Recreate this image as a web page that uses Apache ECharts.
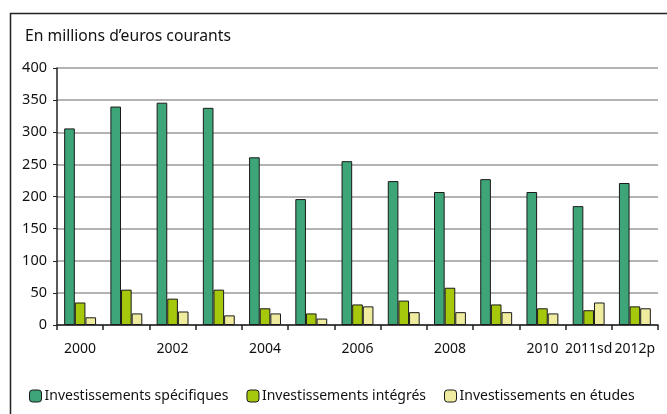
<!DOCTYPE html>
<html>
<head>
<meta charset="utf-8">
<script src="https://cdn.jsdelivr.net/npm/echarts@6/dist/echarts.min.js"></script>
<style>
  html, body { margin: 0; padding: 0; background: #fff; }
  #chart { width: 667px; height: 414px; }
</style>
</head>
<body>
<div id="chart"></div>
<script>
// Années (sd = semi-définitif, p = provisoire)
const years = ['2000', '2001', '2002', '2003', '2004', '2005', '2006', '2007', '2008', '2009', '2010', '2011sd', '2012p'];
const shownLabels = ['2000', '2002', '2004', '2006', '2008', '2010', '2011sd', '2012p'];

// En millions d'euros courants
const specifiques = [306, 340, 346, 338, 261, 196, 255, 224, 207, 227, 207, 185, 221];
const integres    = [35, 55, 41, 55, 26, 18, 32, 38, 58, 32, 26, 23, 29];
const etudes      = [12, 18, 21, 15, 18, 10, 29, 20, 20, 20, 18, 35, 26];

const FONT = 'Noto Sans';
const chart = echarts.init(document.getElementById('chart'), null, { renderer: 'canvas' });

const barStyle = (color) => ({ color, borderColor: '#1a1a1a', borderWidth: 1 });

chart.setOption({
  animation: false,
  textStyle: { fontFamily: FONT },
  graphic: [
    { type: 'rect', shape: { x: 10.5, y: 13.5, width: 700, height: 450 },
      style: { fill: 'none', stroke: '#222', lineWidth: 1.5 } },
    { type: 'text', left: 25, top: 29,
      style: { text: 'En millions d\u2019euros courants', font: '15.7px "' + FONT + '"', fill: '#111' } },
  ],
  legend: {
    bottom: 6, left: 24, itemGap: 18,
    itemWidth: 12, itemHeight: 12, itemStyle: { borderColor: '#1a1a1a', borderWidth: 1 },
    textStyle: { fontSize: 14, color: '#111', padding: [0, 0, 0, -2] },
    data: ['Investissements spécifiques', 'Investissements intégrés', 'Investissements en études'],
  },
  grid: { left: 57, right: 9, top: 68, bottom: 89 },
  xAxis: {
    type: 'category', data: years,
    axisLine: { lineStyle: { color: '#222', width: 1.5 } },
    axisTick: { show: true, length: 5, lineStyle: { color: '#222', width: 1.5 } },
    axisLabel: {
      interval: 0, margin: 17, fontSize: 14, color: '#111',
      formatter: (v) => shownLabels.includes(v) ? v : '',
    },
  },
  yAxis: {
    type: 'value', min: 0, max: 400, interval: 50,
    axisLine: { show: true, lineStyle: { color: '#222', width: 1.5 } },
    axisTick: { show: true, length: 4, inside: false, lineStyle: { color: '#222' } },
    axisLabel: { fontSize: 14.5, color: '#111', margin: 10 },
    splitLine: { lineStyle: { color: '#9a9a9a', width: 1.5 } },
  },
  series: [
    { name: 'Investissements spécifiques', type: 'bar', data: specifiques,
      barGap: '0%', barCategoryGap: '31%', itemStyle: barStyle('#3da577') },
    { name: 'Investissements intégrés', type: 'bar', data: integres,
      itemStyle: barStyle('#a6c80c') },
    { name: 'Investissements en études', type: 'bar', data: etudes,
      itemStyle: barStyle('#efeca0') },
  ],
});
</script>
</body>
</html>
